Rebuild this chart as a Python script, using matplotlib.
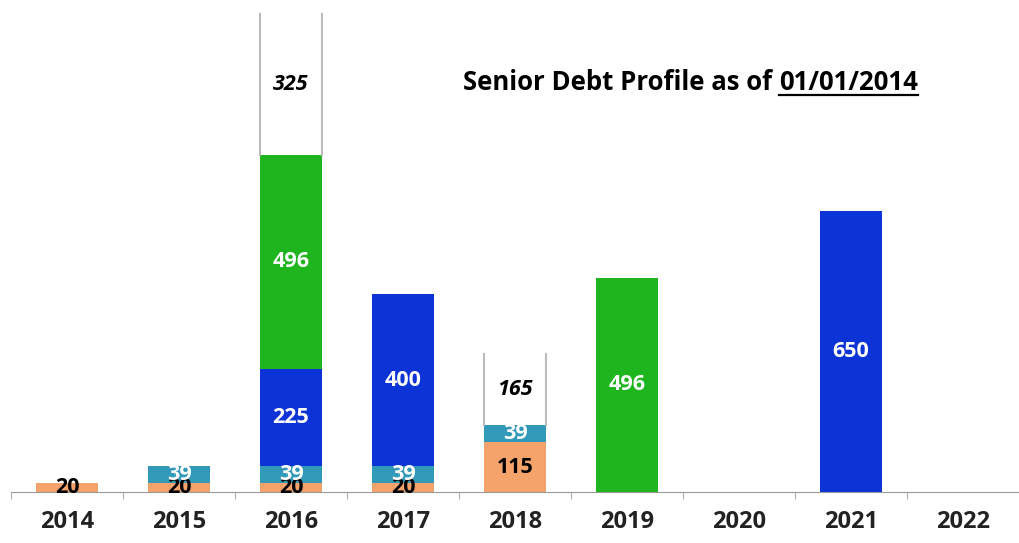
import matplotlib.pyplot as plt
import numpy as np

plt.rcParams['font.family'] = ['Open Sans', 'DejaVu Sans']

annees = ['2014', '2015', '2016', '2017', '2018', '2019', '2020', '2021', '2022']
orange = [20, 20, 20, 20, 115, 0, 0, 0, 0]
turquoise = [0, 39, 39, 39, 39, 0, 0, 0, 0]
bleu = [0, 0, 225, 400, 0, 0, 0, 650, 0]
vert = [0, 0, 496, 0, 0, 496, 0, 0, 0]
blanc = [0, 0, 325, 0, 165, 0, 0, 0, 0]

series = [
    (orange, '#F6A36B', 'black', 'normal'),
    (turquoise, '#3399B8', 'white', 'normal'),
    (bleu, '#0C33D6', 'white', 'normal'),
    (vert, '#1FB51F', 'white', 'normal'),
    (blanc, 'white', 'black', 'italic'),
]

fig = plt.figure(figsize=(10.19, 5.43), dpi=100)
ax = fig.add_axes([11 / 1019, 51 / 543, 1008 / 1019, 492 / 543])

x = np.arange(len(annees))
largeur = 0.55
bas = np.zeros(len(annees))
for valeurs, couleur, col_txt, style in series:
    v = np.array(valeurs, dtype=float)
    m = v > 0
    ax.bar(x[m], v[m], largeur, bottom=bas[m], color=couleur, linewidth=0, zorder=2)
    for i in np.where(m)[0]:
        if couleur == 'white':
            # bords lateraux gris pour les barres blanches
            for dx in (-largeur / 2, largeur / 2):
                ax.plot([x[i] + dx, x[i] + dx], [bas[i], bas[i] + v[i]],
                        color='#BBBBBB', linewidth=1.5, zorder=2)
        ax.text(x[i], bas[i] + v[i] / 2, f"{int(v[i])}", ha='center', va='center',
                color=col_txt, fontsize=15.5, fontweight='bold', fontstyle=style,
                zorder=3)
    bas += v

ax.set_xlim(-0.5, len(annees) - 0.5)
ax.set_ylim(0, 1138)
ax.set_yticks([])
for s in ['top', 'right', 'left']:
    ax.spines[s].set_visible(False)
ax.spines['bottom'].set_color('#999999')
ax.set_xticks(x)
ax.set_xticklabels(annees, fontsize=17, fontweight='bold', color='#222222')
ax.tick_params(axis='x', length=0, pad=13)
ax.set_xticks(np.arange(len(annees) + 1) - 0.5, minor=True)
ax.tick_params(axis='x', which='minor', length=5, color='#999999')

# titre avec date soulignee
t1 = fig.text(463 / 1019, 1 - 82 / 543, "Senior Debt Profile as of ", fontsize=18.5,
              fontweight='bold', ha='left', va='center')
fig.canvas.draw()
r = fig.canvas.get_renderer()
bb = t1.get_window_extent(r)
t2 = fig.text(bb.x1 / 1019, 1 - 82 / 543, "01/01/2014", fontsize=18.5,
              fontweight='bold', ha='left', va='center')
bb2 = t2.get_window_extent(r)
y_ligne = (bb2.y0 + 1) / 543
fig.add_artist(plt.Line2D([bb2.x0 / 1019, bb2.x1 / 1019], [y_ligne, y_ligne],
                          transform=fig.transFigure, color='black', linewidth=1.6))

fig.savefig('out.png', dpi=100)
